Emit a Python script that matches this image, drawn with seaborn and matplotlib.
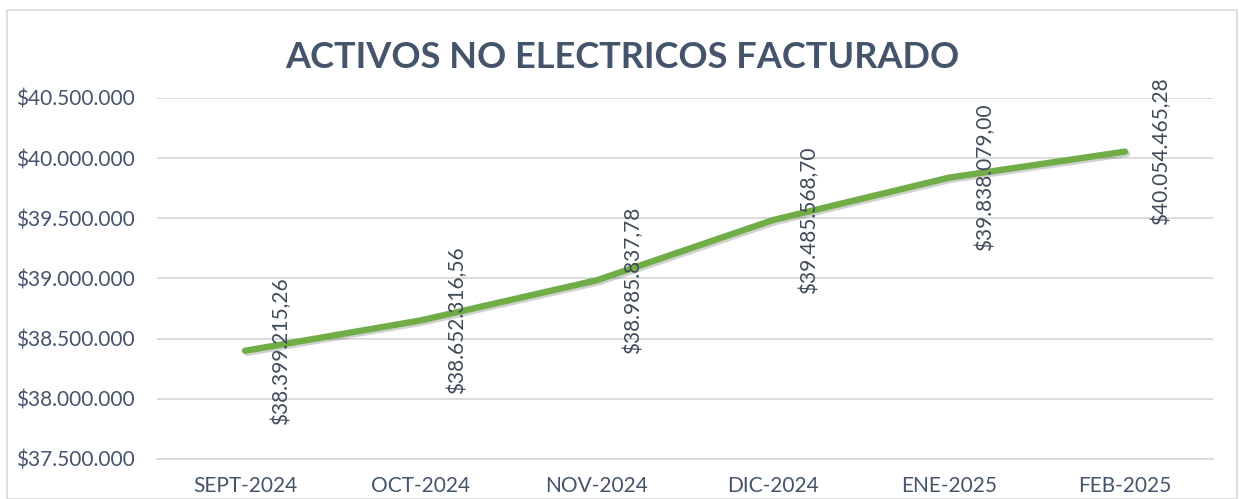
import matplotlib
matplotlib.use("Agg")
import matplotlib.pyplot as plt
import matplotlib.patheffects as pe
from matplotlib.patches import Rectangle
from matplotlib.ticker import FuncFormatter, FixedLocator
import seaborn as sns
import pandas as pd

months = ["SEPT-2024", "OCT-2024", "NOV-2024", "DIC-2024", "ENE-2025", "FEB-2025"]
values = [38399215.26, 38652316.56, 38985837.78, 39485568.70, 39838079.00, 40054465.28]
label_texts = ["$38.399.215,26", "$38.652.316,56", "$38.985.837,78",
               "$39.485.568,70", "$39.838.079,00", "$40.054.465,28"]
yticks = [37500000, 38000000, 38500000, 39000000, 39500000, 40000000, 40500000]
title = "ACTIVOS NO ELECTRICOS FACTURADO"

sns.set_theme(style="white")
plt.rcParams['font.family'] = ['Lato', 'DejaVu Sans']

TEXT = "#44546A"
LBL = "#404A58"
GRID = "#D9D9D9"
GREEN = "#70AD47"

W, H = 1239, 499
fig = plt.figure(figsize=(W / 100, H / 100), dpi=100)
fig.patch.set_facecolor("white")
fig.patches.append(Rectangle((7 / W, 0), (1237 - 7) / W, 1 - 10 / H,
                             transform=fig.transFigure, fill=False,
                             edgecolor=GRID, linewidth=1.2))

ax = fig.add_axes([157 / W, 1 - 459 / H, (1213 - 157) / W, (459 - 98) / H])
df = pd.DataFrame({"mes": months, "valor": values})
sns.lineplot(data=df, x="mes", y="valor", ax=ax, color=GREEN, linewidth=4.6,
             sort=False, solid_capstyle="round",
             path_effects=[pe.SimpleLineShadow(offset=(1.5, -1.5), shadow_color="#000000", alpha=0.18),
                           pe.Normal()])

ax.set_xlim(-0.5, len(months) - 0.5)
ax.set_ylim(yticks[0], yticks[-1])
ax.set_yticks(yticks)
ax.yaxis.set_major_formatter(FuncFormatter(lambda v, p: "$" + f"{int(v):,}".replace(",", ".")))
ax.grid(axis="y", color=GRID, linewidth=1.3)
ax.grid(axis="x", visible=False)
ax.set_xlabel("")
ax.set_ylabel("")
for s in ["top", "right", "left"]:
    ax.spines[s].set_visible(False)
ax.spines["bottom"].set_color(GRID)
ax.spines["bottom"].set_linewidth(1.3)

ax.tick_params(axis="y", length=0, pad=16, labelsize=15, labelcolor=TEXT)
ax.tick_params(axis="x", which="major", length=0, pad=12, labelsize=15, labelcolor=TEXT)
ax.xaxis.set_minor_locator(FixedLocator([i - 0.5 for i in range(len(months) + 1)]))
ax.tick_params(axis="x", which="minor", length=6, width=1.3, color=GRID, direction="out")

for i, (v, t) in enumerate(zip(values, label_texts)):
    ax.annotate(t, xy=(i, v), xytext=(36, 0), textcoords="offset pixels",
                rotation=90, ha="center", va="center", fontsize=15, color=LBL)

fig.text(622 / W, 1 - 57 / H, title, ha="center", va="center",
         fontsize=26, fontweight="bold", color=TEXT)

fig.savefig("out.png", dpi=100)
